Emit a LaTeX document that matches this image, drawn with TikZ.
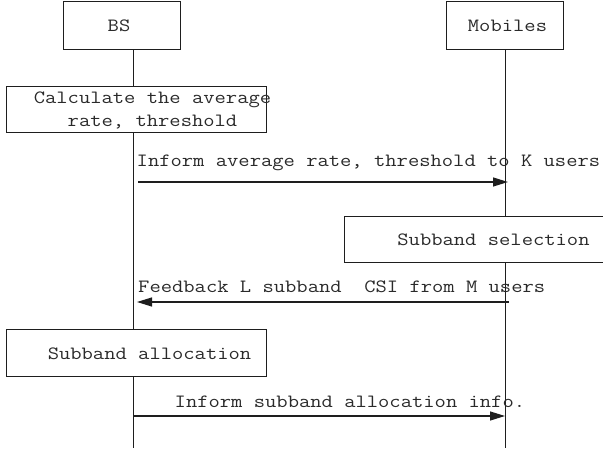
\documentclass[tikz,border=0pt]{standalone}
\usepackage{fontspec}
\setmonofont{Latin Modern Mono}[FakeStretch=1.172]
\usetikzlibrary{arrows.meta}
\definecolor{ink}{HTML}{1E1E1E}
\definecolor{txt}{HTML}{2A2A2A}
\tikzset{
  actor/.style={draw=ink, line width=0.9bp, fill=white, inner sep=0pt,
                minimum width=117bp, minimum height=48bp},
  action/.style={draw=ink, line width=0.9bp, fill=white, inner sep=0pt},
  lifeline/.style={draw=ink, line width=0.9bp},
  msg/.style={draw=ink, line width=1.2bp, -{Triangle[length=15bp,width=9bp]}},
  lbl/.style={text=txt, inner sep=0pt, font=\ttfamily\fontsize{18.8}{22}\selectfont},
}
\begin{document}
\begin{tikzpicture}[x=1bp, y=-1bp]
  \clip (0,0) rectangle (603,453);
  \fill[white] (0,0) rectangle (603,453);

  % participants
  \node[actor] (bs)  at (121.5,25) {};
  \node[actor] (mob) at (504.5,25) {};
  \node[lbl, anchor=base] (bstxt)  at (119,32) {BS};
  \node[lbl, anchor=base] (mobtxt) at (507.5,32) {Mobiles};

  % lifelines
  \coordinate (bsend)  at (133,448);
  \coordinate (mobend) at (505,448);
  \draw[lifeline] (bs.south -| bsend) -- (bsend);
  \draw[lifeline] (mob.south -| mobend) -- (mobend);

  % processing boxes
  \node[action, minimum width=260bp, minimum height=46bp] (calc)  at (136,109) {};
  \node[action, minimum width=276bp, minimum height=46bp] (sel)   at (482,239) {};
  \node[action, minimum width=260bp, minimum height=47bp] (alloc) at (136,352.5) {};
  \node[lbl, anchor=base] (calcA) at (152.5,104) {Calculate the average};
  \node[lbl, anchor=base] (calcB) at (152.5,127) {rate, threshold};
  \node[lbl, anchor=base] (seltxt) at (493.5,245.5) {Subband selection};
  \node[lbl, anchor=base] (alloctxt) at (149.5,359) {Subband allocation};

  % messages
  \coordinate (m1s) at (138,182);
  \coordinate (m1e) at (508,182);
  \coordinate (m2s) at (509,302);
  \coordinate (m2e) at (137,302);
  \coordinate (m3s) at (133,416);
  \coordinate (m3e) at (505,416);
  \node[lbl, anchor=base west] (m1txt) at (136.5,167) {Inform average rate, threshold to K users};
  \node[lbl, anchor=base west] (m2txt) at (138,292.5) {Feedback L subband\ \ CSI from M users};
  \node[lbl, anchor=base west] (m3txt) at (174.5,407) {Inform subband allocation info.};
  \draw[msg] (m1s) -- (m1e);
  \draw[msg] (m2s) -- (m2e);
  \draw[msg] (m3s) -- (m3e);
\end{tikzpicture}
\end{document}
